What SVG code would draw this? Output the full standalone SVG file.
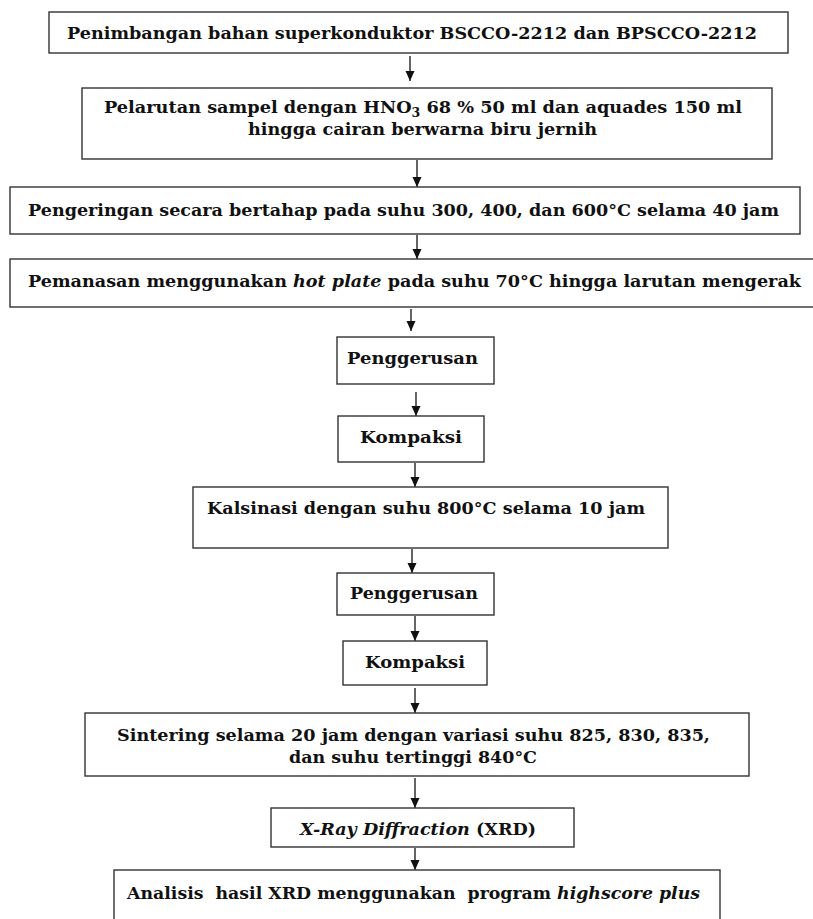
<svg xmlns="http://www.w3.org/2000/svg" width="813" height="919" viewBox="0 0 813 919">
<style>
.box{fill:#fff;stroke:#333;stroke-width:1.4}
.t{font-family:"DejaVu Serif","Liberation Serif",serif;font-weight:bold;font-size:17px;fill:#111;text-anchor:start}
.i{font-style:italic}
.c{stroke:#111;stroke-width:1.3;fill:none;marker-end:url(#ah)}
</style>
<defs>
<marker id="ah" markerUnits="userSpaceOnUse" markerWidth="10" markerHeight="10" refX="10" refY="4.5" orient="auto">
<path d="M0,0 L10,4.5 L0,9 z" fill="#111"/>
</marker>
</defs>
<rect width="813" height="919" fill="#fff"/>
<g id="connectors">
<line class="c" x1="410" y1="56" x2="410" y2="81"/>
<line class="c" x1="417" y1="160" x2="417" y2="187"/>
<line class="c" x1="417" y1="235" x2="417" y2="259"/>
<line class="c" x1="411" y1="309" x2="411" y2="331"/>
<line class="c" x1="416" y1="392" x2="416" y2="416"/>
<line class="c" x1="415" y1="463" x2="415" y2="487"/>
<line class="c" x1="412" y1="549" x2="412" y2="573"/>
<line class="c" x1="415" y1="616" x2="415" y2="641"/>
<line class="c" x1="415" y1="688" x2="415" y2="713"/>
<line class="c" x1="415" y1="778" x2="415" y2="808"/>
<line class="c" x1="415" y1="848" x2="415" y2="870"/>
</g>
<g id="n1">
<rect class="box" x="49" y="12" width="739" height="41"/>
<text class="t" x="67" y="39" textLength="690" lengthAdjust="spacingAndGlyphs">Penimbangan bahan superkonduktor BSCCO-2212 dan BPSCCO-2212</text>
</g>
<g id="n2">
<rect class="box" x="82" y="88" width="690" height="71"/>
<text class="t" x="104" y="113" textLength="638" lengthAdjust="spacingAndGlyphs">Pelarutan sampel dengan HNO<tspan font-size="12" dy="4">3</tspan><tspan dy="-4"> 68 % 50 ml dan aquades 150 ml</tspan></text>
<text class="t" x="248" y="135" textLength="349" lengthAdjust="spacingAndGlyphs">hingga cairan berwarna biru jernih</text>
</g>
<g id="n3">
<rect class="box" x="10" y="187" width="790" height="47"/>
<text class="t" x="28" y="216" textLength="751" lengthAdjust="spacingAndGlyphs">Pengeringan secara bertahap pada suhu 300, 400, dan 600°C selama 40 jam</text>
</g>
<g id="n4">
<rect class="box" x="10" y="259" width="815" height="48"/>
<text class="t" x="28" y="287" textLength="773" lengthAdjust="spacingAndGlyphs">Pemanasan menggunakan <tspan class="i">hot plate</tspan> pada suhu 70°C hingga larutan mengerak</text>
</g>
<g id="n5">
<rect class="box" x="337" y="337" width="157" height="47"/>
<text class="t" x="347" y="364" textLength="131" lengthAdjust="spacingAndGlyphs">Penggerusan</text>
</g>
<g id="n6">
<rect class="box" x="338" y="416" width="146" height="46"/>
<text class="t" x="360" y="443" textLength="102" lengthAdjust="spacingAndGlyphs">Kompaksi</text>
</g>
<g id="n7">
<rect class="box" x="193" y="487" width="475" height="61"/>
<text class="t" x="207" y="514" textLength="438" lengthAdjust="spacingAndGlyphs">Kalsinasi dengan suhu 800°C selama 10 jam</text>
</g>
<g id="n8">
<rect class="box" x="337" y="573" width="157" height="42"/>
<text class="t" x="350" y="599" textLength="128" lengthAdjust="spacingAndGlyphs">Penggerusan</text>
</g>
<g id="n9">
<rect class="box" x="343" y="641" width="144" height="44"/>
<text class="t" x="365" y="668" textLength="100" lengthAdjust="spacingAndGlyphs">Kompaksi</text>
</g>
<g id="n10">
<rect class="box" x="85" y="713" width="664" height="63"/>
<text class="t" x="117" y="741" textLength="593" lengthAdjust="spacingAndGlyphs">Sintering selama 20 jam dengan variasi suhu 825, 830, 835,</text>
<text class="t" x="289" y="763" textLength="248" lengthAdjust="spacingAndGlyphs">dan suhu tertinggi 840°C</text>
</g>
<g id="n11">
<rect class="box" x="271" y="808" width="303" height="39"/>
<text class="t" x="300" y="835" textLength="236" lengthAdjust="spacingAndGlyphs"><tspan class="i">X-Ray Diffraction</tspan> (XRD)</text>
</g>
<g id="n12">
<rect class="box" x="114" y="870" width="606" height="60"/>
<text class="t" x="127" y="899" textLength="573" lengthAdjust="spacingAndGlyphs" xml:space="preserve">Analisis  hasil XRD menggunakan  program <tspan class="i">highscore plus</tspan></text>
</g>
</svg>
